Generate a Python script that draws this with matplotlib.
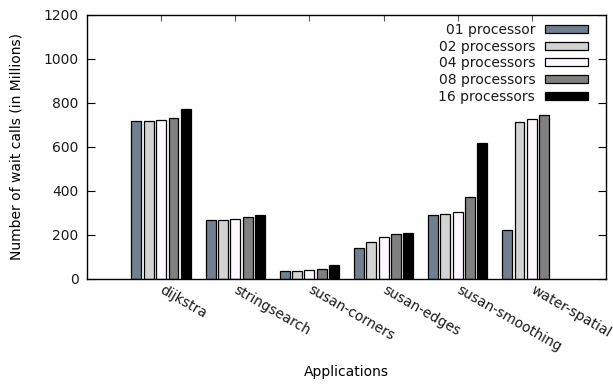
import numpy as np
import matplotlib
matplotlib.use('Agg')
import matplotlib.pyplot as plt

# Wait calls (millions) per application and processor count
apps = ['dijkstra', 'stringsearch', 'susan-corners', 'susan-edges',
        'susan-smoothing', 'water-spatial']
series_labels = ['01 processor', '02 processors', '04 processors',
                 '08 processors', '16 processors']
p01 = [718, 267, 36, 141, 292, 224]
p02 = [719, 269, 36, 166, 296, 714]
p04 = [723, 273, 39, 189, 306, 726]
p08 = [730, 282, 44, 204, 374, 747]
p16 = [773, 293, 65, 211, 619, np.nan]  # no 16-processor run for water-spatial
series = [p01, p02, p04, p08, p16]
colors = ['#708090', '#d3d3d3', '#fdf7ff', '#808080', '#000000']

plt.rcParams['font.family'] = 'DejaVu Sans'
plt.rcParams['font.size'] = 10
plt.rcParams['text.color'] = '#1a1a1a'
plt.rcParams['xtick.labelcolor'] = '#1a1a1a'
plt.rcParams['ytick.labelcolor'] = '#1a1a1a'

fig = plt.figure(figsize=(6.13, 3.84), dpi=100)
ax = fig.add_axes([87 / 613, 1 - 279 / 384, 519 / 613, 264 / 384])

x = np.arange(len(apps))
slot = 1 / 6  # 5 bars + 1 gap per cluster
for k, (vals, lab, col) in enumerate(zip(series, series_labels, colors)):
    ax.bar(x + (k - 2) * slot, vals, width=0.8 * slot, color=col,
           edgecolor='black', linewidth=0.9, label=lab, zorder=2)

ax.set_xlim(-1, 6)
ax.set_ylim(0, 1200)
ax.set_yticks(np.arange(0, 1201, 200))
ax.set_xticks(x)
ax.set_xticklabels(apps, rotation=-30, ha='left', va='center',
                   rotation_mode='anchor')

ax.tick_params(axis='y', direction='in', length=5.5, width=0.8,
               right=True, pad=6)
ax.tick_params(axis='x', direction='in', length=4.5, width=0.8,
               top=True, pad=7, color='#555555')
for s in ax.spines.values():
    s.set_linewidth(1.0)

ax.set_ylabel('Number of wait calls (in Millions)')
ax.set_xlabel('Applications')
ax.yaxis.set_label_coords(-0.122, 0.5)
ax.xaxis.set_label_coords(0.5, -0.326)

ax.legend(loc='upper right', bbox_to_anchor=(588 / 613, 1 - 23 / 384),
          bbox_transform=fig.transFigure, frameon=False, markerfirst=False,
          handlelength=3.1, handleheight=0.5, handletextpad=0.7,
          labelspacing=0.19, borderpad=0, borderaxespad=0)

fig.savefig('out.png', dpi=100)
